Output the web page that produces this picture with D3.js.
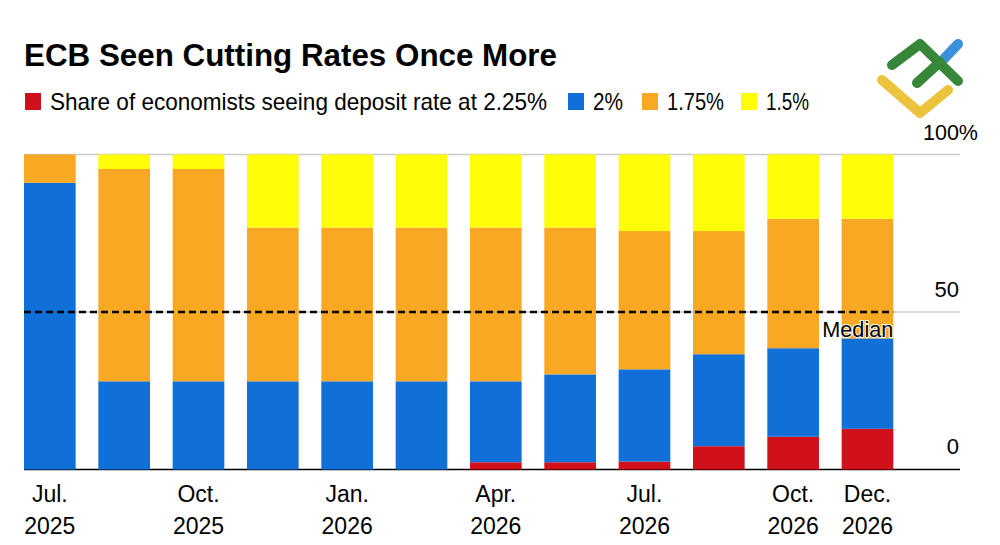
<!DOCTYPE html>
<html>
<head>
<meta charset="utf-8">
<script src="https://cdn.jsdelivr.net/npm/d3@7"></script>
<style>
  body { margin: 0; background: #fff; }
  text { font-family: "Liberation Sans", Arial, sans-serif; fill: #000; }
</style>
</head>
<body>
<div id="chart"></div>
<script>
// Data (% of economists)
var meetings = ["Jul 2025", "Sep 2025", "Oct 2025", "Dec 2025", "Jan 2026", "Mar 2026",
  "Apr 2026", "Jun 2026", "Jul 2026", "Sep 2026", "Oct 2026", "Dec 2026"];
var share225 = [0, 0, 0, 0, 0, 0, 2.3, 2.3, 2.5, 7.4, 10.4, 12.9];
var share200 = [91, 28, 28, 28, 28, 28, 25.7, 27.9, 29.3, 29.2, 28.1, 28.7];
var share175 = [9, 67.4, 67.4, 48.8, 48.8, 48.8, 48.8, 46.6, 43.9, 39.1, 41.1, 38];
var share150 = [0, 4.6, 4.6, 23.2, 23.2, 23.2, 23.2, 23.2, 24.3, 24.3, 20.4, 20.4];

var seriesNames = ["Share of economists seeing deposit rate at 2.25%", "2%", "1.75%", "1.5%"];
var seriesKeys = ["r225", "r200", "r175", "r150"];
var seriesColors = ["#d0111b", "#1070d7", "#f8a823", "#fffe08"];

var tickMeetings = ["Jul 2025", "Oct 2025", "Jan 2026", "Apr 2026", "Jul 2026", "Oct 2026", "Dec 2026"];
var tickMonths = ["Jul.", "Oct.", "Jan.", "Apr.", "Jul.", "Oct.", "Dec."];
var tickYears = ["2025", "2025", "2026", "2026", "2026", "2026", "2026"];
var medianValue = 50;

// Set up chart
var svgWidth = 1000;
var svgHeight = 545;
var plotLeft = 24, plotRight = 893.3, gridRight = 960;
var plotTop = 154.5, plotBottom = 469.5;

var svg = d3.select("#chart")
  .append("svg")
  .attr("width", svgWidth)
  .attr("height", svgHeight);

// build rows for the stack
var rows = meetings.map(function(m, i) {
  return { meeting: m, r225: share225[i], r200: share200[i], r175: share175[i], r150: share150[i] };
});
var stacked = d3.stack().keys(seriesKeys)(rows);

var x = d3.scaleBand()
  .domain(meetings)
  .range([plotLeft, plotRight])
  .paddingInner(0.305)
  .paddingOuter(0);

var y = d3.scaleLinear()
  .domain([0, 100])
  .range([plotBottom, plotTop]);

// fit a text element to a given width
function fit(sel, w) {
  sel.attr("textLength", w).attr("lengthAdjust", "spacingAndGlyphs");
}

// Title
svg.append("text")
  .attr("x", 24)
  .attr("y", 65.5)
  .style("font-size", "31px")
  .style("font-weight", "bold")
  .text("ECB Seen Cutting Rates Once More")
  .call(fit, 533);

// Legend
var legendX = [25, 568, 642, 741];
var legendW = [497, 30, 57, 43];
seriesNames.forEach(function(name, i) {
  svg.append("rect")
    .attr("x", legendX[i])
    .attr("y", 93)
    .attr("width", 16)
    .attr("height", 17)
    .attr("fill", seriesColors[i]);
  svg.append("text")
    .attr("x", legendX[i] + 25)
    .attr("y", 110)
    .style("font-size", "24px")
    .text(name)
    .call(fit, legendW[i]);
});

// gridlines
[100, 50].forEach(function(v) {
  svg.append("line")
    .attr("x1", plotLeft).attr("x2", gridRight)
    .attr("y1", y(v)).attr("y2", y(v))
    .attr("stroke", "#cccccc")
    .attr("stroke-width", 1.5);
});

// baseline
svg.append("line")
  .attr("x1", plotLeft).attr("x2", gridRight)
  .attr("y1", y(0)).attr("y2", y(0))
  .attr("stroke", "#000")
  .attr("stroke-width", 1.5);

// bars
svg.append("g")
  .selectAll("g")
  .data(stacked)
  .enter()
  .append("g")
  .attr("fill", function(d, i) { return seriesColors[i]; })
  .selectAll("rect")
  .data(function(d) { return d; })
  .enter()
  .append("rect")
  .attr("x", function(d) { return x(d.data.meeting); })
  .attr("y", function(d) { return y(d[1]); })
  .attr("width", x.bandwidth())
  .attr("height", function(d) { return y(d[0]) - y(d[1]); });

// median line
svg.append("line")
  .attr("x1", plotLeft).attr("x2", plotRight)
  .attr("y1", y(medianValue)).attr("y2", y(medianValue))
  .attr("stroke", "#000")
  .attr("stroke-width", 2.5)
  .attr("stroke-dasharray", "7,4");

svg.append("text")
  .attr("x", plotRight)
  .attr("y", y(medianValue) + 24.5)
  .attr("text-anchor", "end")
  .style("font-size", "22px")
  .style("stroke", "#fff")
  .style("stroke-width", 2)
  .style("paint-order", "stroke")
  .text("Median")
  .call(fit, 71);

// right axis labels
var yTicks = [0, 50];
svg.selectAll(".ylab")
  .data(yTicks)
  .enter()
  .append("text")
  .attr("class", "ylab")
  .attr("x", gridRight - 1)
  .attr("y", function(d) { return y(d) - 15.5; })
  .attr("text-anchor", "end")
  .style("font-size", "22px")
  .text(function(d) { return d; });

svg.append("text")
  .attr("x", 923)
  .attr("y", y(100) - 15)
  .style("font-size", "22px")
  .text("100%")
  .call(fit, 55);

// x axis labels
var xLabels = svg.append("g");
tickMeetings.forEach(function(m, i) {
  var cx = x(m) + x.bandwidth() / 2;
  xLabels.append("text")
    .attr("x", cx)
    .attr("y", 502)
    .attr("text-anchor", "middle")
    .style("font-size", "23px")
    .text(tickMonths[i]);
  xLabels.append("text")
    .attr("x", cx)
    .attr("y", 533.5)
    .attr("text-anchor", "middle")
    .style("font-size", "23px")
    .text(tickYears[i]);
});

// logo, top right
var logo = svg.append("g")
  .attr("fill", "none")
  .attr("stroke-width", 10)
  .attr("stroke-linecap", "round")
  .attr("stroke-linejoin", "round");
logo.append("path")
  .attr("d", "M882,80 L920,113 L948,90")
  .attr("stroke", "#ecc33c");
logo.append("path")
  .attr("d", "M940,63 L958,44")
  .attr("stroke", "#3b8fdb");
logo.append("path")
  .attr("d", "M892,65 L920,44 L958,81")
  .attr("stroke", "#36873a");
logo.append("path")
  .attr("d", "M917,83 L940,62")
  .attr("stroke", "#36873a");
</script>
</body>
</html>
